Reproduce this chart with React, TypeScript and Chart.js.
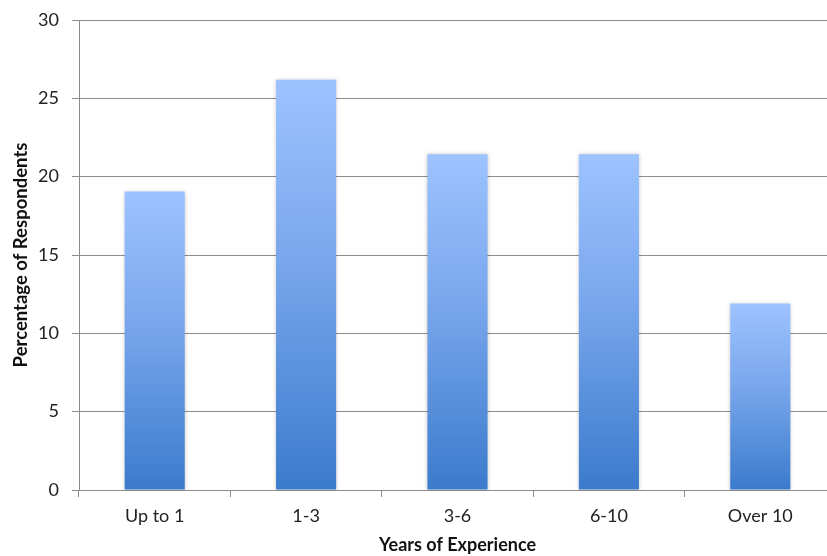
import React, { useEffect, useRef } from "react";
import { Chart, registerables } from "chart.js";

Chart.register(...registerables);

const categories = ["Up to 1", "1-3", "3-6", "6-10", "Over 10"];
const percentages = [19.05, 26.19, 21.43, 21.43, 11.9];
const yTicks = [0, 5, 10, 15, 20, 25, 30];

const FONT = "Lato, 'Open Sans', sans-serif";

export default function App() {
  const ref = useRef<HTMLCanvasElement | null>(null);

  useEffect(() => {
    if (!ref.current) return;
    const shadowPlugin = {
      id: "barShadow",
      beforeDatasetsDraw(chart: any) {
        const c = chart.ctx;
        c.save();
        c.shadowColor = "rgba(0,0,0,0.22)";
        c.shadowBlur = 4;
        c.shadowOffsetX = 0;
        c.shadowOffsetY = 0;
      },
      afterDatasetsDraw(chart: any) {
        chart.ctx.restore();
      },
    };
    const chart = new Chart(ref.current, {
      type: "bar",
      data: {
        labels: categories,
        datasets: [
          {
            data: percentages,
            backgroundColor: (ctx: any) => {
              const chart = ctx.chart;
              const ys = chart.scales.y;
              if (!chart.chartArea || !ys || !ctx.parsed) return "#6a9be6";
              const top = ys.getPixelForValue(ctx.parsed.y);
              const bottom = ys.getPixelForValue(0);
              if (!isFinite(top) || !isFinite(bottom) || top === bottom) return "#6a9be6";
              const g = chart.ctx.createLinearGradient(0, top, 0, bottom);
              g.addColorStop(0, "#9dc3ff");
              g.addColorStop(0.45, "#78a6ec");
              g.addColorStop(1, "#3b7bcc");
              return g;
            },
            borderWidth: 0,
            categoryPercentage: 1,
            barPercentage: 0.397,
          },
        ],
      },
      options: {
        animation: false,
        responsive: false,
        devicePixelRatio: 1,
        layout: { padding: { top: 20, right: 0, left: 0, bottom: 0 } },
        plugins: { legend: { display: false }, tooltip: { enabled: false } },
        scales: {
          x: {
            grid: {
              offset: true,
              drawOnChartArea: false,
              drawTicks: true,
              tickLength: 7,
              color: "#8c8c8c",
            },
            border: { display: true, color: "#8c8c8c" },
            ticks: {
              color: "#222",
              font: { family: FONT, size: 18 },
              padding: 8,
            },
            title: {
              display: true,
              text: "Years of Experience",
              color: "#111",
              font: { family: FONT, size: 18, weight: "bold" },
              padding: { top: 4, bottom: 0 },
            },
            afterFit(scale: any) {
              scale.height = 556 - 490;
              scale.paddingLeft = 0;
              scale.paddingRight = 0;
            },
          },
          y: {
            min: 0,
            max: 30,
            afterBuildTicks(scale: any) {
              scale.ticks = yTicks.map((v) => ({ value: v }));
            },
            grid: {
              color: "#8c8c8c",
              tickLength: 7,
            },
            border: { display: true, color: "#8c8c8c" },
            ticks: {
              color: "#222",
              font: { family: FONT, size: 18 },
              padding: 13,
            },
            title: {
              display: true,
              text: "Percentage of Respondents",
              color: "#111",
              font: { family: FONT, size: 18.5, weight: "bold" },
              padding: { top: 10, bottom: 0 },
            },
            afterFit(scale: any) {
              scale.width = 79;
              scale.paddingTop = 0;
              scale.paddingBottom = 0;
            },
          },
        },
      },
      plugins: [shadowPlugin],
    } as any);
    return () => chart.destroy();
  }, []);

  return (
    <div
      style={{
        position: "fixed",
        left: 0,
        top: 0,
        width: 827,
        height: 556,
        overflow: "hidden",
        background: "#fff",
      }}
    >
      <canvas ref={ref} width={836} height={556} style={{ display: "block" }} />
    </div>
  );
}
